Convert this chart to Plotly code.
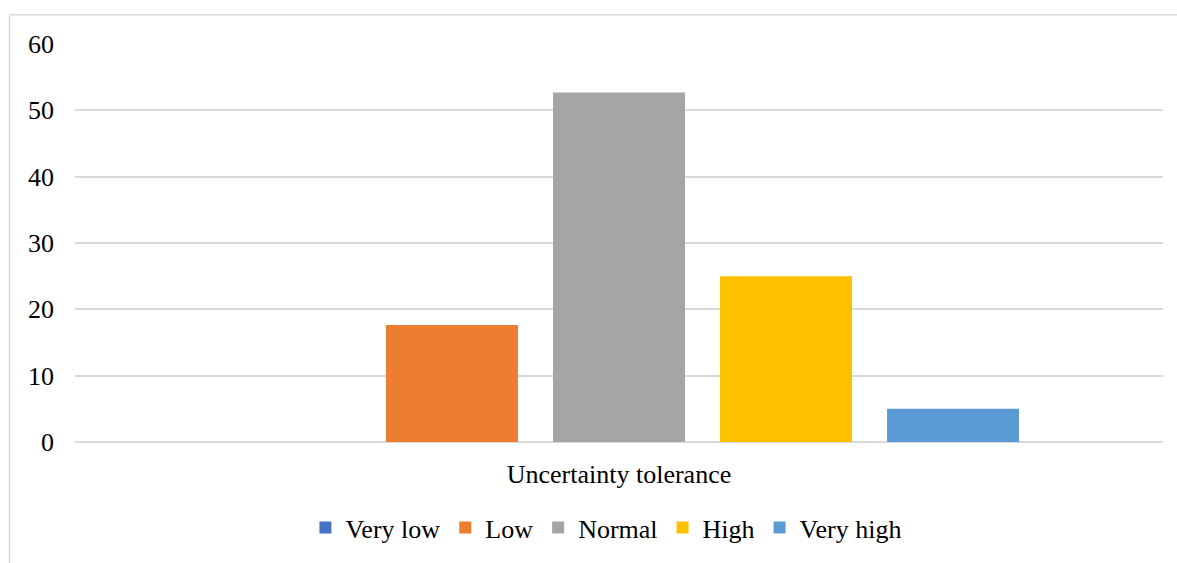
import plotly.graph_objects as go

# Survey result: share of respondents per uncertainty-tolerance level
category = ["Uncertainty tolerance"]
levels = ["Very low", "Low", "Normal", "High", "Very high"]
values = [0, 17.65, 52.7, 25.0, 5.0]
colors = ["#4472C4", "#ED7D31", "#A5A5A5", "#FFC000", "#5B9BD5"]
y_ticks = [0, 10, 20, 30, 40, 50, 60]

FONT = "Liberation Serif, Times New Roman, serif"
GRID = "#d9d9d9"
FS = 26

fig = go.Figure()
for name, val, col in zip(levels, values, colors):
    fig.add_trace(go.Bar(x=category, y=[val], name=name, marker=dict(color=col, line=dict(width=0))))

W, H = 1177, 563
ml, mr, mt, mb = 75, 14, 44, 119

fig.update_layout(
    width=W, height=H,
    margin=dict(l=ml, r=mr, t=mt, b=mb),
    paper_bgcolor="white", plot_bgcolor="white",
    barmode="group", bargap=0.2325, bargroupgap=0.21,
    font=dict(family=FONT, size=FS, color="#000000"),
    showlegend=True,
    legend=dict(
        orientation="h", xanchor="center", yanchor="middle",
        x=0.488, y=-0.215, font=dict(size=FS, family=FONT),
        itemsizing="constant", traceorder="normal",
        itemwidth=30, tracegroupgap=0,
    ),
    xaxis=dict(
        showgrid=False, showline=False, ticks="",
        tickfont=dict(size=FS, family=FONT),
        ticklabelstandoff=14,
    ),
    yaxis=dict(
        range=[0, 60], tickvals=y_ticks, showgrid=True, gridcolor=GRID, gridwidth=1.5,
        zeroline=True, zerolinecolor=GRID, zerolinewidth=1.5,
        showline=False, ticks="", tickfont=dict(size=FS, family=FONT),
        ticklabelstandoff=20,
    ),
)

# Chart frame: left and top edges of the surrounding box
pw = W - ml - mr
ph = H - mt - mb
def px_x(p):
    return (p - ml) / pw
def px_y(p):
    return (H - mb - p) / ph

fig.add_shape(type="line", xref="paper", yref="paper",
              x0=px_x(9.5), x1=px_x(W + 5), y0=px_y(14.5), y1=px_y(14.5),
              line=dict(color=GRID, width=1.5))
fig.add_shape(type="line", xref="paper", yref="paper",
              x0=px_x(9.5), x1=px_x(9.5), y0=px_y(14.5), y1=px_y(H + 5),
              line=dict(color=GRID, width=1.5))

fig.write_html("out.html")
